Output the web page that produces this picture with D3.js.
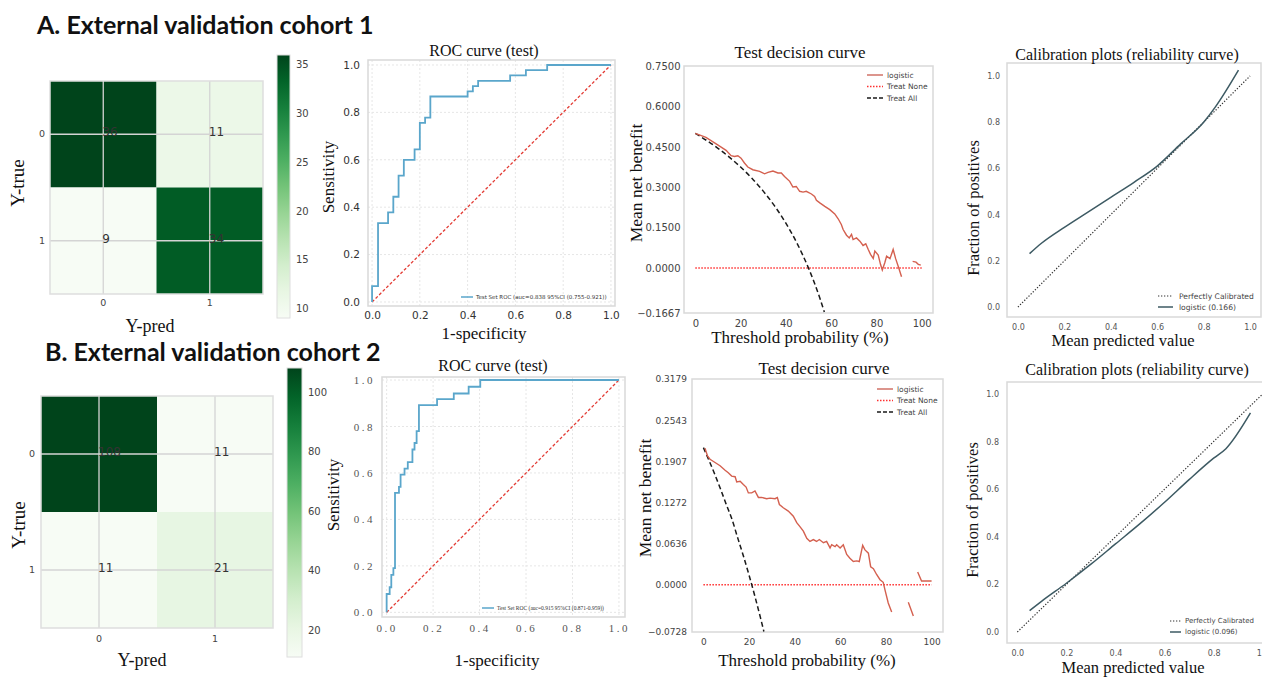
<!DOCTYPE html>
<html>
<head>
<meta charset="utf-8">
<script src="https://cdn.jsdelivr.net/npm/d3@7"></script>
<style>
  body { margin: 0; background: #fff; }
  svg { display: block; }
  .serif { font-family: "Liberation Serif", "Times New Roman", serif; fill: #111; }
  .sans { font-family: "DejaVu Sans", sans-serif; }
</style>
</head>
<body>
<svg width="1262" height="677"></svg>
<script>
/* global d3 */

// ---- data ----
const cmLabels = ['0', '1'];
const cm1 = [[36, 11], [9, 34]];
const cm2 = [[108, 11], [11, 21]];
const cm1Ticks = [10, 15, 20, 25, 30, 35];
const cm2Ticks = [20, 40, 60, 80, 100];

const rocTicks = [0, 0.2, 0.4, 0.6, 0.8, 1.0];
const roc1Fpr = [0,0,0.025,0.025,0.067,0.067,0.089,0.089,0.111,0.111,0.133,0.133,0.178,0.178,0.2,0.2,0.222,0.222,0.244,0.244,0.4,0.4,0.422,0.422,0.444,0.444,0.578,0.578,0.644,0.644,0.733,0.733,1];
const roc1Tpr = [0,0.067,0.067,0.333,0.333,0.378,0.378,0.444,0.444,0.533,0.533,0.6,0.6,0.644,0.644,0.756,0.756,0.778,0.778,0.867,0.867,0.889,0.889,0.911,0.911,0.933,0.933,0.956,0.956,0.978,0.978,1,1];
const roc2Fpr = [0,0,0.013,0.013,0.02,0.02,0.029,0.029,0.036,0.036,0.053,0.053,0.06,0.06,0.077,0.077,0.091,0.091,0.111,0.111,0.12,0.12,0.129,0.129,0.139,0.139,0.217,0.217,0.289,0.289,0.353,0.353,0.403,0.403,1];
const roc2Tpr = [0,0.079,0.079,0.108,0.108,0.161,0.161,0.19,0.19,0.514,0.514,0.54,0.54,0.593,0.593,0.619,0.619,0.647,0.647,0.701,0.701,0.729,0.729,0.78,0.78,0.892,0.892,0.918,0.918,0.942,0.942,0.971,0.971,1,1];
const roc1Legend = 'Test Set ROC (auc=0.838 95%CI (0.755-0.921))';
const roc2Legend = 'Test Set ROC (auc=0.915 95%CI (0.871-0.959))';

const dcaXTicks = [0, 20, 40, 60, 80, 100];
const dca1YTicks = [-0.1667, 0, 0.15, 0.3, 0.45, 0.6, 0.75];
const dca2YTicks = [-0.0728, 0, 0.0636, 0.1272, 0.1907, 0.2543, 0.3179];
// [threshold %, net benefit]; null = gap in the curve
const dca1Model = [[0,0.5],[4.7,0.485],[9.2,0.461],[13.6,0.437],[15.8,0.417],[17.3,0.414],[18.8,0.417],[20.2,0.408],[21.7,0.39],[23.2,0.375],[25.4,0.365],[28.4,0.359],[30.6,0.35],[32.1,0.355],[34.3,0.36],[36.5,0.353],[38,0.353],[39.4,0.34],[41.7,0.322],[43.1,0.301],[44.6,0.303],[46.1,0.285],[47.6,0.282],[49,0.285],[51.3,0.275],[52.7,0.266],[53.5,0.252],[55,0.242],[57.2,0.229],[59.4,0.217],[61.6,0.201],[63.1,0.183],[64.5,0.162],[65.3,0.143],[66.8,0.122],[68,0.112],[69,0.125],[69.7,0.106],[71.2,0.112],[72.7,0.1],[74.1,0.084],[75.3,0.09],[76.4,0.069],[77.4,0.051],[78.6,0.036],[79.3,0.063],[80.8,0.048],[81.8,0.014],[82.6,-0.007],[83.7,0.02],[84.5,0.044],[86,0.035],[87.4,0.069],[88.5,0.035],[89.7,0.005],[91.1,-0.032],[93,null],[96,0.025],[97.5,0.022],[98.5,0.014],[99.6,0.011]];
const dca1All = [[0,0.5],[5,0.4737],[10,0.4444],[15,0.4118],[20,0.375],[25,0.3333],[30,0.2857],[35,0.2308],[40,0.1667],[45,0.0909],[50,0],[52.5,-0.0526],[55,-0.1111],[57,-0.163]];
const dca2Model = [[0.7,0.211],[1.8,0.199],[2.9,0.194],[5.1,0.189],[7.3,0.184],[9.5,0.177],[10.9,0.173],[12.4,0.168],[13.9,0.167],[14.6,0.159],[16.1,0.16],[17.5,0.155],[18.7,0.151],[19.7,0.142],[21.2,0.142],[22.6,0.145],[24.1,0.135],[25.5,0.135],[27.7,0.133],[29.2,0.134],[31.4,0.133],[32.4,0.135],[33.3,0.124],[35,0.119],[37.2,0.114],[39.4,0.106],[40.9,0.096],[42.3,0.09],[43.8,0.083],[45.3,0.072],[46.7,0.067],[48.2,0.07],[49.6,0.067],[50.8,0.07],[52.6,0.065],[54,0.067],[55.5,0.057],[56.2,0.062],[57.7,0.059],[58.4,0.062],[59.9,0.057],[61.3,0.062],[62.8,0.047],[64.2,0.041],[65.7,0.036],[67.2,0.037],[68.3,0.036],[69.8,0.061],[70.8,0.054],[72.3,0.049],[73.3,0.028],[74.5,0.025],[75.9,0.016],[77.4,0.008],[78.8,0.004],[79.6,-0.008],[81,-0.028],[82.5,-0.042],[86,null],[89.8,-0.027],[92,-0.048],[93,null],[93.9,0.02],[95.6,0.006],[100,0.006]];
const dca2All = [[0,0.212],[2.5,0.1918],[5,0.1705],[7.5,0.1481],[10,0.1244],[12.5,0.1014],[15,0.0729],[17.5,0.0449],[20,0.015],[22.5,-0.0168],[25,-0.0507],[26.5,-0.072]];
const dcaNone = [[0,0],[100,0]];

const calTicks = [0, 0.2, 0.4, 0.6, 0.8, 1.0];
const calPerfect = [[0,0],[1,1]];
const cal1Model = [[0.05,0.231],[0.1,0.275],[0.2,0.345],[0.3,0.41],[0.4,0.475],[0.5,0.54],[0.6,0.61],[0.7,0.705],[0.8,0.8],[0.85,0.865],[0.95,1.025]];
const cal2Model = [[0.05,0.09],[0.1,0.13],[0.2,0.205],[0.3,0.285],[0.4,0.37],[0.5,0.455],[0.6,0.545],[0.7,0.64],[0.8,0.73],[0.85,0.77],[0.95,0.92]];
const cal1Name = 'logistic (0.166)';
const cal2Name = 'logistic (0.096)';

// ---- helpers ----
const svg = d3.select('svg');
let clipId = 0;

const label = (g, txt, x, y, size, rot) => {
  const t = g.append('text')
    .attr('class', 'serif')
    .attr('text-anchor', 'middle')
    .attr('dy', '0.35em')
    .style('font-size', `${size}px`)
    .text(txt);
  if (rot) t.attr('transform', `translate(${x},${y}) rotate(-90)`);
  else t.attr('x', x).attr('y', y);
};

const frameRect = (g, f, color) => {
  g.append('rect')
    .attr('x', f.l).attr('y', f.t)
    .attr('width', f.r - f.l).attr('height', f.b - f.t)
    .attr('fill', 'none')
    .attr('stroke', color || '#d9d9d9')
    .attr('stroke-width', 1.5);
};

const clipFor = (g, f) => {
  const id = `clip${clipId++}`;
  g.append('clipPath').attr('id', id)
    .append('rect').attr('x', f.l).attr('y', f.t).attr('width', f.r - f.l).attr('height', f.b - f.t);
  return `url(#${id})`;
};

const styleTicks = (axisG, o) => {
  axisG.select('.domain').remove();
  axisG.selectAll('text')
    .attr('fill', o.fill || '#444')
    .style('font-family', o.family || '"DejaVu Sans", sans-serif')
    .style('font-size', `${o.size}px`)
    .style('letter-spacing', o.spacing || null);
};

const axes = (g, f, x, y, o) => {
  const bx = g.append('g').attr('transform', `translate(0,${f.b})`)
    .call(d3.axisBottom(x).tickValues(o.xTicks).tickSize(0).tickPadding(o.padX).tickFormat(o.xFmt));
  styleTicks(bx, o);
  const ly = g.append('g').attr('transform', `translate(${f.l},0)`)
    .call(d3.axisLeft(y).tickValues(o.yTicks).tickSize(0).tickPadding(o.padY).tickFormat(o.yFmt));
  styleTicks(ly, o);
};

// ---- confusion matrix ----
const confusion = (o) => {
  const g = svg.append('g');
  const x = d3.scaleBand().domain(cmLabels).range([o.l, o.l + o.size]);
  const y = d3.scaleBand().domain(cmLabels).range([o.t, o.t + o.size]);
  const color = d3.scaleSequential(d3.interpolateGreens).domain(o.domain);
  const cells = [];
  o.data.forEach((row, i) => row.forEach((v, j) => cells.push({ t: cmLabels[i], p: cmLabels[j], v })));

  g.selectAll('rect.cell').data(cells).enter().append('rect')
    .attr('x', d => x(d.p)).attr('y', d => y(d.t))
    .attr('width', x.bandwidth()).attr('height', y.bandwidth())
    .attr('fill', d => color(d.v));

  const half = x.bandwidth() / 2;
  g.selectAll('line.gx').data(cmLabels).enter().append('line')
    .attr('x1', d => x(d) + half).attr('x2', d => x(d) + half)
    .attr('y1', o.t).attr('y2', o.t + o.size)
    .attr('stroke', '#d4d4d4').attr('stroke-width', 1.3);
  g.selectAll('line.gy').data(cmLabels).enter().append('line')
    .attr('y1', d => y(d) + half).attr('y2', d => y(d) + half)
    .attr('x1', o.l).attr('x2', o.l + o.size)
    .attr('stroke', '#d4d4d4').attr('stroke-width', 1.3);
  frameRect(g, { l: o.l, t: o.t, r: o.l + o.size, b: o.t + o.size }, '#dedede');

  g.selectAll('text.val').data(cells).enter().append('text')
    .attr('class', 'sans')
    .attr('x', d => x(d.p) + half - 1)
    .attr('y', d => y(d.t) + half + 2)
    .attr('fill', '#333')
    .style('font-size', '12px')
    .text(d => d.v);

  const bx = g.append('g').attr('transform', `translate(0,${o.t + o.size})`)
    .call(d3.axisBottom(x).tickSize(0).tickPadding(o.padX));
  styleTicks(bx, { size: 9.5 });
  const ly = g.append('g').attr('transform', `translate(${o.l},0)`)
    .call(d3.axisLeft(y).tickSize(0).tickPadding(o.padY));
  styleTicks(ly, { size: 9.5 });

  label(g, 'Y-true', o.yLab[0], o.yLab[1], 19, true);
  label(g, 'Y-pred', o.xLab[0], o.xLab[1], 18, false);

  // colorbar
  const cb = o.cb;
  const gid = `grad${clipId++}`;
  const grad = g.append('defs').append('linearGradient').attr('id', gid)
    .attr('x1', 0).attr('y1', 1).attr('x2', 0).attr('y2', 0);
  d3.range(0, 1.0001, 0.1).forEach(s => {
    grad.append('stop').attr('offset', s).attr('stop-color', d3.interpolateGreens(s));
  });
  g.append('rect').attr('x', cb.l).attr('y', cb.t).attr('width', cb.w).attr('height', cb.h)
    .attr('fill', `url(#${gid})`).attr('stroke', '#dedede').attr('stroke-width', 1);
  const cy = d3.scaleLinear().domain(o.domain).range([cb.t + cb.h, cb.t]);
  const ra = g.append('g').attr('transform', `translate(${cb.l + cb.w},0)`)
    .call(d3.axisRight(cy).tickValues(o.cbTicks).tickSize(0).tickPadding(6));
  styleTicks(ra, { size: 10 });
};

// ---- ROC ----
const roc = (o) => {
  const g = svg.append('g');
  const f = o.f;
  const x = d3.scaleLinear().domain(o.xDom).range([f.l, f.r]);
  const y = d3.scaleLinear().domain(o.yDom).range([f.b, f.t]);
  g.selectAll('line.vx').data(rocTicks).enter().append('line')
    .attr('x1', d => x(d)).attr('x2', d => x(d)).attr('y1', f.t).attr('y2', f.b)
    .attr('stroke', '#e6e6e6').attr('stroke-dasharray', '2,2');
  g.selectAll('line.hy').data(rocTicks).enter().append('line')
    .attr('y1', d => y(d)).attr('y2', d => y(d)).attr('x1', f.l).attr('x2', f.r)
    .attr('stroke', '#e6e6e6').attr('stroke-dasharray', '2,2');
  frameRect(g, f);
  const line = d3.line().x(d => x(d[0])).y(d => y(d[1]));
  g.append('path').datum([[0, 0], [1, 1]]).attr('d', line)
    .attr('fill', 'none').attr('stroke', '#e33b34').attr('stroke-width', 1.3).attr('stroke-dasharray', '3,2');
  g.append('path').datum(d3.zip(o.fpr, o.tpr)).attr('d', line)
    .attr('fill', 'none').attr('stroke', '#5aa6cb').attr('stroke-width', 1.8);
  axes(g, f, x, y, {
    xTicks: rocTicks, yTicks: rocTicks, xFmt: d3.format('.1f'), yFmt: d3.format('.1f'),
    padX: o.padX, padY: o.padY, size: o.tickSize, family: o.tickFamily, spacing: o.tickSpacing, fill: o.tickFill
  });
  g.append('line').attr('x1', o.leg[0]).attr('x2', o.leg[0] + 12).attr('y1', o.leg[1]).attr('y2', o.leg[1])
    .attr('stroke', '#5aa6cb').attr('stroke-width', 1.5);
  g.append('text').attr('x', o.leg[0] + 15).attr('y', o.leg[1]).attr('dy', '0.35em')
    .attr('fill', '#333')
    .style('font-family', o.legFamily).style('font-size', '5.5px')
    .text(o.legText);
  label(g, 'ROC curve (test)', o.title[0], o.title[1], 16, false);
  label(g, 'Sensitivity', o.yLab[0], o.yLab[1], 17, true);
  label(g, '1-specificity', o.xLab[0], o.xLab[1], 17, false);
};

// ---- decision curve ----
const dca = (o) => {
  const g = svg.append('g');
  const f = o.f;
  const x = d3.scaleLinear().domain([-5, 105]).range([f.l, f.r]);
  const y = d3.scaleLinear().domain(o.yDom).range([f.b, f.t]);
  const clip = clipFor(g, f);
  frameRect(g, f);
  const line = d3.line().defined(d => d[1] !== null).x(d => x(d[0])).y(d => y(d[1]));
  const plot = g.append('g').attr('clip-path', clip);
  plot.append('path').datum(dcaNone).attr('d', line)
    .attr('fill', 'none').attr('stroke', '#ff3030').attr('stroke-width', 1.5).attr('stroke-dasharray', '1.5,1.5');
  plot.append('path').datum(o.all).attr('d', line.curve(d3.curveMonotoneX))
    .attr('fill', 'none').attr('stroke', '#1a1a1a').attr('stroke-width', 1.5).attr('stroke-dasharray', '5,3');
  plot.append('path').datum(o.model).attr('d', line.curve(d3.curveLinear))
    .attr('fill', 'none').attr('stroke', '#d4604f').attr('stroke-width', 1.4);
  axes(g, f, x, y, {
    xTicks: dcaXTicks, yTicks: o.yTicks, xFmt: d3.format('d'), yFmt: d3.format('.4f'),
    padX: o.padX, padY: o.padY, size: o.tickSize
  });
  const items = [
    { name: 'logistic', color: '#d98a80', dash: null, w: 1.8 },
    { name: 'Treat None', color: '#ff3030', dash: '1.5,1.5', w: 1.3 },
    { name: 'Treat All', color: '#1a1a1a', dash: '4,2', w: 1.4 }
  ];
  const lg = g.append('g').selectAll('g').data(items).enter().append('g')
    .attr('transform', (d, i) => `translate(${o.leg[0]},${o.leg[1] + i * 11.5})`);
  lg.append('line').attr('x1', 0).attr('x2', 16)
    .attr('stroke', d => d.color).attr('stroke-width', d => d.w).attr('stroke-dasharray', d => d.dash);
  lg.append('text').attr('x', 20).attr('dy', '0.35em')
    .attr('class', 'sans').attr('fill', '#444').style('font-size', '7.5px')
    .text(d => d.name);
  label(g, 'Test decision curve', o.title[0], o.title[1], 17, false);
  label(g, 'Mean net benefit', o.yLab[0], o.yLab[1], 17.5, true);
  label(g, 'Threshold probability (%)', o.xLab[0], o.xLab[1], 17, false);
};

// ---- calibration ----
const calib = (o) => {
  const g = svg.append('g');
  const f = o.f;
  const x = d3.scaleLinear().domain(o.xDom).range([f.l, f.r]);
  const y = d3.scaleLinear().domain(o.yDom).range([f.b, f.t]);
  frameRect(g, f);
  const line = d3.line().x(d => x(d[0])).y(d => y(d[1]));
  g.append('path').datum(calPerfect).attr('d', line)
    .attr('fill', 'none').attr('stroke', '#333').attr('stroke-width', 1.2).attr('stroke-dasharray', '1.3,1.7');
  g.append('path').datum(o.model).attr('d', line.curve(d3.curveMonotoneX))
    .attr('fill', 'none').attr('stroke', '#3d5a63').attr('stroke-width', 1.5);
  axes(g, f, x, y, {
    xTicks: calTicks, yTicks: calTicks, xFmt: d3.format('.1f'), yFmt: d3.format('.1f'),
    padX: o.padX, padY: o.padY, size: 8, fill: '#555'
  });
  const items = [
    { name: 'Perfectly Calibrated', color: '#333', dash: '1.3,1.7', w: 1.2 },
    { name: o.name, color: '#3d5a63', dash: null, w: 1.5 }
  ];
  const lg = g.append('g').selectAll('g').data(items).enter().append('g')
    .attr('transform', (d, i) => `translate(${o.leg[0]},${o.leg[1] + i * 11})`);
  lg.append('line').attr('x1', 0).attr('x2', o.legLine)
    .attr('stroke', d => d.color).attr('stroke-width', d => d.w).attr('stroke-dasharray', d => d.dash);
  lg.append('text').attr('x', o.legText).attr('dy', '0.35em')
    .attr('class', 'sans').attr('fill', '#444').style('font-size', `${o.legSize}px`)
    .text(d => d.name);
  label(g, 'Calibration plots (reliability curve)', o.title[0], o.title[1], 16, false);
  label(g, 'Fraction of positives', o.yLab[0], o.yLab[1], 16.5, true);
  label(g, 'Mean predicted value', o.xLab[0], o.xLab[1], 16.5, false);
};

// ---- section titles ----
const head = (txt, x, y) => {
  svg.append('text').attr('x', x).attr('y', y)
    .style('font-family', 'Lato, "Open Sans", sans-serif')
    .style('font-weight', 'bold').style('font-size', '25px')
    .attr('fill', '#111').text(txt);
};
head('A. External validation cohort 1', 37, 34);
head('B. External validation cohort 2', 45, 361);

// ---- row A ----
confusion({
  data: cm1, domain: [9, 36], cbTicks: cm1Ticks,
  l: 50, t: 81, size: 213, padX: 5.5, padY: 5,
  cb: { l: 277, t: 55, w: 13, h: 263 },
  yLab: [17, 183], xLab: [150, 326]
});
roc({
  f: { l: 368, t: 60, r: 615, b: 306 }, xDom: [-0.017, 1.017], yDom: [-0.017, 1.021],
  fpr: roc1Fpr, tpr: roc1Tpr, padX: 5.5, padY: 8, tickSize: 10.5, tickFill: '#333',
  leg: [461, 297], legText: roc1Legend, legFamily: '"DejaVu Sans", sans-serif',
  title: [484, 50], yLab: [328, 177], xLab: [484, 333]
});
dca({
  f: { l: 684, t: 66, r: 933, b: 313 }, yDom: [-0.1667, 0.75], yTicks: dca1YTicks,
  model: dca1Model, all: dca1All, padX: 6.4, padY: 3.5, tickSize: 10,
  leg: [867, 75], title: [800, 52], yLab: [636, 183], xLab: [800, 337]
});
calib({
  f: { l: 1007, t: 63, r: 1261, b: 317 }, xDom: [-0.047, 1.047], yDom: [-0.043, 1.056],
  model: cal1Model, name: cal1Name, padX: 7, padY: 7,
  leg: [1158, 296], legLine: 15, legText: 21, legSize: 7.6,
  title: [1127, 54], yLab: [973, 208], xLab: [1123, 340]
});

// ---- row B ----
confusion({
  data: cm2, domain: [11, 108], cbTicks: cm2Ticks,
  l: 41, t: 396, size: 232, padX: 7.4, padY: 6,
  cb: { l: 287, t: 368, w: 15, h: 289 },
  yLab: [18, 525], xLab: [142, 660]
});
roc({
  f: { l: 382, t: 377, r: 625, b: 617 }, xDom: [-0.02, 1.026], yDom: [-0.02, 1.013],
  fpr: roc2Fpr, tpr: roc2Tpr, padX: 7, padY: 7, tickSize: 11, tickFill: '#555',
  tickFamily: '"Liberation Serif", serif', tickSpacing: '2.5px',
  leg: [482, 608], legText: roc2Legend, legFamily: '"Liberation Serif", serif',
  title: [493, 365], yLab: [333, 495], xLab: [497, 660]
});
dca({
  f: { l: 692, t: 379, r: 943, b: 632 }, yDom: [-0.0728, 0.3179], yTicks: dca2YTicks,
  model: dca2Model, all: dca2All, padX: 6.4, padY: 5, tickSize: 9,
  leg: [877, 389], title: [824, 368], yLab: [645, 498], xLab: [807, 660]
});
calib({
  f: { l: 1007, t: 382, r: 1275, b: 643 }, xDom: [-0.042, 1.05], yDom: [-0.046, 1.05],
  model: cal2Model, name: cal2Name, padX: 7, padY: 8,
  leg: [1170, 621], legLine: 11, legText: 15, legSize: 7,
  title: [1137, 369], yLab: [972, 510], xLab: [1133, 667]
});
</script>
</body>
</html>
